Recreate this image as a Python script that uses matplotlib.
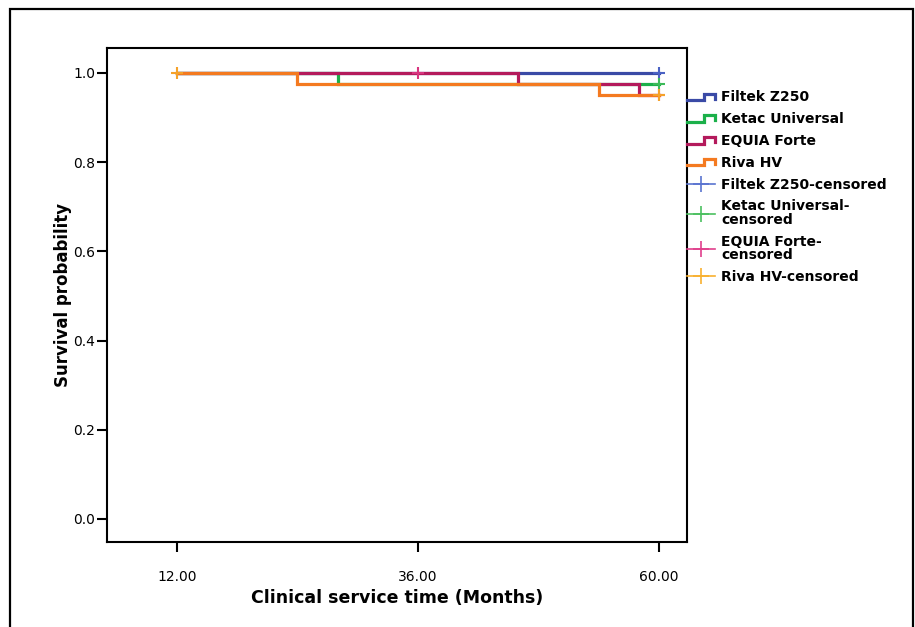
import matplotlib
matplotlib.use("Agg")
import matplotlib.pyplot as plt
from matplotlib.lines import Line2D
from matplotlib.legend_handler import HandlerBase
from matplotlib.patches import Rectangle

plt.rcParams['font.family'] = ['DejaVu Sans']

# Kaplan-Meier step data (time in months, survival probability)
groups = ["Filtek Z250", "Ketac Universal", "EQUIA Forte", "Riva HV"]
filtek_t = [12, 60]
filtek_s = [1.0, 1.0]
ketac_t = [12, 28, 60]
ketac_s = [1.0, 0.975, 0.975]
equia_t = [12, 46, 58, 60]
equia_s = [1.0, 0.975, 0.95, 0.95]
riva_t = [12, 24, 54, 60]
riva_s = [1.0, 0.975, 0.95, 0.95]

# censored observations
filtek_cens_t = [60]
filtek_cens_s = [1.0]
ketac_cens_t = [60]
ketac_cens_s = [0.975]
equia_cens_t = [36, 60]
equia_cens_s = [1.0, 0.95]
riva_cens_t = [12, 60]
riva_cens_s = [1.0, 0.95]

x_ticks = [12, 36, 60]
x_ticklabels = ["12.00", "36.00", "60.00"]
y_ticks = [0.0, 0.2, 0.4, 0.6, 0.8, 1.0]

line_colors = ["#3a4aa6", "#1bb04a", "#b41a5c", "#f47a20"]
cens_colors = ["#4a62c4", "#3cba58", "#d8357f", "#f5a22a"]
legend_cens_colors = ["#5a74d0", "#4cc060", "#e0408c", "#f8b030"]


class StepHandler(HandlerBase):
    """legend glyph drawn as a little step"""
    def create_artists(self, legend, orig_handle, xdescent, ydescent,
                       width, height, fontsize, trans):
        x0, y0 = -xdescent, -ydescent
        xs = [x0, x0 + 0.6 * width, x0 + 0.6 * width, x0 + width, x0 + width]
        ys = [y0 + 0.15 * height, y0 + 0.15 * height, y0 + 0.8 * height,
              y0 + 0.8 * height, y0 + 0.3 * height]
        ln = Line2D(xs, ys, color=orig_handle.get_color(),
                    lw=orig_handle.get_linewidth(), solid_joinstyle='miter',
                    transform=trans)
        return [ln]


fig = plt.figure(figsize=(9.15, 6.27), dpi=100)
ax = fig.add_axes([107 / 915, 1 - 542 / 627, 580 / 915, 494 / 627])

# outer frame (bottom edge is cut off in the original)
fig.patches.append(Rectangle((10 / 915, -0.05), 903 / 915, 1 - 9 / 627 + 0.05,
                             transform=fig.transFigure, fill=False,
                             edgecolor='black', lw=1.6))

series = [(filtek_t, filtek_s), (ketac_t, ketac_s), (equia_t, equia_s), (riva_t, riva_s)]
censored = [(filtek_cens_t, filtek_cens_s), (ketac_cens_t, ketac_cens_s),
            (equia_cens_t, equia_cens_s), (riva_cens_t, riva_cens_s)]

step_handles = []
for i, (t, s) in enumerate(series):
    h, = ax.step(t, s, where='post', color=line_colors[i], lw=2.3,
                 zorder=2 + i, solid_joinstyle='miter')
    step_handles.append(h)

cens_handles = []
for i, (t, s) in enumerate(censored):
    ax.plot(t, s, ls='none', marker='+', ms=8, mew=1.5,
            color=cens_colors[i], zorder=7)
    cens_handles.append(Line2D([], [], color=legend_cens_colors[i], lw=1.2,
                               marker='+', ms=11, mew=1.2))

ax.set_xlim(5.03, 62.79)
ax.set_ylim(-0.0516, 1.056)
ax.set_xticks(x_ticks)
ax.set_xticklabels(x_ticklabels)
ax.set_yticks(y_ticks)
ax.tick_params(axis='x', direction='out', length=7.5, width=1.5, labelsize=10, pad=12.5)
ax.tick_params(axis='y', direction='out', length=7.5, width=1.5, labelsize=10, pad=1)
for sp in ax.spines.values():
    sp.set_linewidth(1.5)

ax.set_xlabel("Clinical service time (Months)", fontsize=12.5, fontweight='bold', labelpad=4)
ax.set_ylabel("Survival probability", fontsize=12, fontweight='bold', labelpad=0.5)

labels = groups + ["Filtek Z250-censored", "Ketac Universal-\ncensored",
                   "EQUIA Forte-\ncensored", "Riva HV-censored"]
handler_map = {h: StepHandler() for h in step_handles}
leg = ax.legend(step_handles + cens_handles, labels, handler_map=handler_map,
                loc='upper left', bbox_to_anchor=(1.0, 0.914), frameon=False,
                borderpad=0, borderaxespad=0, handlelength=2.0,
                handletextpad=0.45, labelspacing=0.56,
                prop={'weight': 'bold', 'size': 10})
for txt in leg.get_texts():
    txt.set_linespacing(0.95)

fig.savefig("out.png", dpi=100)
